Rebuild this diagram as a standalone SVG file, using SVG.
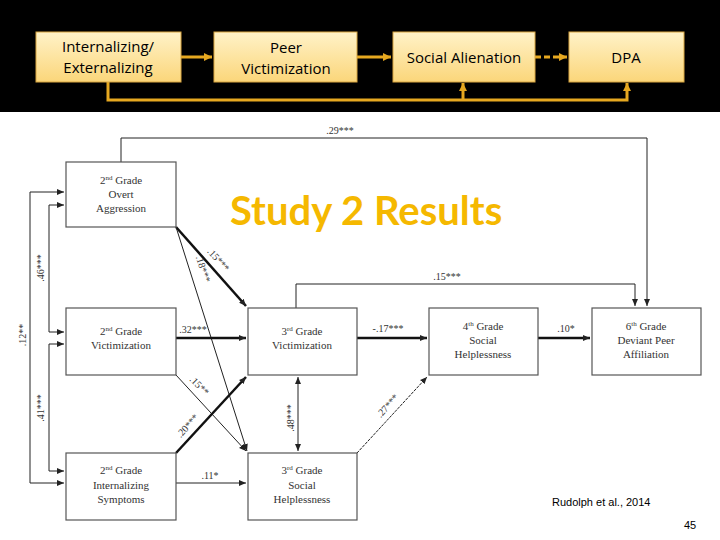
<svg xmlns="http://www.w3.org/2000/svg" width="720" height="540" viewBox="0 0 720 540">
<defs>
<marker id="a" markerWidth="8" markerHeight="8" refX="7" refY="4" orient="auto" markerUnits="userSpaceOnUse"><path d="M0,1 L7,4 L0,7z" fill="#222"/></marker>
<marker id="as" markerWidth="8" markerHeight="8" refX="1" refY="4" orient="auto" markerUnits="userSpaceOnUse"><path d="M8,1 L1,4 L8,7z" fill="#222"/></marker>
<marker id="g" markerWidth="10" markerHeight="10" refX="8" refY="5" orient="auto" markerUnits="userSpaceOnUse"><path d="M0,1 L8,5 L0,9z" fill="#e6a820"/></marker>
<linearGradient id="yg" x1="0" y1="0" x2="0" y2="1"><stop offset="0" stop-color="#fff2c8"/><stop offset="1" stop-color="#fbd67a"/></linearGradient>
</defs>
<style>
.tb{fill:url(#yg);stroke:#d9a640;stroke-width:1}
.tt{font-family:"Open Sans","Liberation Sans",sans-serif;font-size:15px;fill:#000;text-anchor:middle}
.b{fill:#fff;stroke:#555;stroke-width:1.2}
.t{font-family:"Liberation Serif",serif;font-size:11px;fill:#333;text-anchor:middle}
.l{stroke:#222;stroke-width:1;fill:none}
.k{stroke:#111;stroke-width:2.5;fill:none}
.g{stroke:#e6a820;stroke-width:3;fill:none}
.n{font-family:"Liberation Serif",serif;font-size:10px;fill:#333;text-anchor:middle}
</style>
<rect width="720" height="540" fill="#fff"/>
<rect width="720" height="112" fill="#000"/>
<g id="top-connectors">
<path class="g" d="M181,57 H212" marker-end="url(#g)"/>
<path class="g" d="M357,57 H391" marker-end="url(#g)"/>
<path class="g" d="M535,57 H567" stroke-dasharray="6,3" marker-end="url(#g)"/>
<path class="g" d="M108,82 V100 H627 V83" marker-end="url(#g)"/>
<path class="g" d="M463,100 V83" marker-end="url(#g)"/>
</g>
<g id="t1"><rect class="tb" x="36" y="32" width="145" height="50"/><text class="tt" x="108" y="52">Internalizing/</text><text class="tt" x="108" y="73">Externalizing</text></g>
<g id="t2"><rect class="tb" x="214" y="32" width="143" height="50"/><text class="tt" x="286" y="53" font-size="19">Peer</text><text class="tt" x="286" y="74" font-size="19">Victimization</text></g>
<g id="t3"><rect class="tb" x="393" y="32" width="142" height="50"/><text class="tt" x="464" y="63">Social Alienation</text></g>
<g id="t4"><rect class="tb" x="569" y="32" width="115" height="50"/><text class="tt" x="626" y="63">DPA</text></g>
<text x="230" y="225" font-family="Lato,'Open Sans',sans-serif" font-weight="bold" font-size="40" fill="#f5b800">Study 2 Results</text>
<g id="connectors">
<path class="l" d="M121,162 V138 H647 V306" marker-end="url(#a)"/>
<path class="l" d="M296,308 V284 H635 V306" marker-end="url(#a)"/>
<path class="l" d="M64,205 H49 V332 H64" marker-start="url(#as)" marker-end="url(#a)"/>
<path class="l" d="M64,192 H30 V483 H64" marker-start="url(#as)" marker-end="url(#a)"/>
<path class="l" d="M64,344 H49 V471 H64" marker-start="url(#as)" marker-end="url(#a)"/>
<path class="k" d="M176,227 L246,306" marker-end="url(#a)"/>
<path class="l" d="M176,227 L247,451" marker-end="url(#a)"/>
<path class="k" d="M176,338 H246" marker-end="url(#a)"/>
<path class="l" d="M176,375 L246,451" marker-end="url(#a)"/>
<path class="k" d="M176,453 L246,377" marker-end="url(#a)"/>
<path class="l" d="M176,483 H246" marker-end="url(#a)"/>
<path class="l" d="M298,377 V451" marker-start="url(#as)" marker-end="url(#a)"/>
<path class="l" d="M357,453 L427,377" stroke-dasharray="3,1" marker-end="url(#a)"/>
<path class="k" d="M357,338 H427" marker-end="url(#a)"/>
<path class="k" d="M538,338 H590" marker-end="url(#a)"/>
</g>
<g id="labels">
<text class="n" x="340" y="134">.29***</text>
<text class="n" x="447" y="280">.15***</text>
<text class="n" transform="translate(44,268) rotate(-90)">.46***</text>
<text class="n" transform="translate(26,335) rotate(-90)">.12**</text>
<text class="n" transform="translate(44,408) rotate(-90)">.41***</text>
<text class="n" transform="translate(216,262) rotate(48)">.15***</text>
<text class="n" transform="translate(200,270) rotate(72)">.18***</text>
<text class="n" x="193" y="333">.32***</text>
<text class="n" transform="translate(197,388) rotate(45)">.15**</text>
<text class="n" transform="translate(190,428) rotate(-48)">.20***</text>
<text class="n" x="210" y="479">.11*</text>
<text class="n" transform="translate(294,418) rotate(-90)">.48***</text>
<text class="n" transform="translate(390,408) rotate(-48)">.27***</text>
<text class="n" x="388" y="332">-.17***</text>
<text class="n" x="566" y="332">.10*</text>
</g>
<g id="n1"><rect class="b" x="66" y="162" width="110" height="65"/><text class="t" x="121" y="184">2<tspan font-size="7" dy="-4">nd</tspan><tspan dy="4"> Grade</tspan></text><text class="t" x="121" y="198">Overt</text><text class="t" x="121" y="212">Aggression</text></g>
<g id="n2"><rect class="b" x="66" y="308" width="110" height="67"/><text class="t" x="121" y="335">2<tspan font-size="7" dy="-4">nd</tspan><tspan dy="4"> Grade</tspan></text><text class="t" x="121" y="349">Victimization</text></g>
<g id="n3"><rect class="b" x="66" y="453" width="110" height="67"/><text class="t" x="121" y="474">2<tspan font-size="7" dy="-4">nd</tspan><tspan dy="4"> Grade</tspan></text><text class="t" x="121" y="489">Internalizing</text><text class="t" x="121" y="503">Symptoms</text></g>
<g id="n4"><rect class="b" x="248" y="308" width="109" height="67"/><text class="t" x="302" y="335">3<tspan font-size="7" dy="-4">rd</tspan><tspan dy="4"> Grade</tspan></text><text class="t" x="302" y="349">Victimization</text></g>
<g id="n5"><rect class="b" x="248" y="453" width="109" height="67"/><text class="t" x="302" y="474">3<tspan font-size="7" dy="-4">rd</tspan><tspan dy="4"> Grade</tspan></text><text class="t" x="302" y="489">Social</text><text class="t" x="302" y="503">Helplessness</text></g>
<g id="n6"><rect class="b" x="429" y="308" width="109" height="67"/><text class="t" x="483" y="330">4<tspan font-size="7" dy="-4">th</tspan><tspan dy="4"> Grade</tspan></text><text class="t" x="483" y="344">Social</text><text class="t" x="483" y="358">Helplessness</text></g>
<g id="n7"><rect class="b" x="592" y="308" width="109" height="67"/><text class="t" x="646" y="330">6<tspan font-size="7" dy="-4">th</tspan><tspan dy="4"> Grade</tspan></text><text class="t" x="646" y="344">Deviant Peer</text><text class="t" x="646" y="358">Affiliation</text></g>
<text x="552" y="506" font-family="'Liberation Sans',sans-serif" font-size="11" fill="#000">Rudolph et al., 2014</text>
<text x="684" y="529" font-family="'Liberation Sans',sans-serif" font-size="11" fill="#000">45</text>
</svg>
